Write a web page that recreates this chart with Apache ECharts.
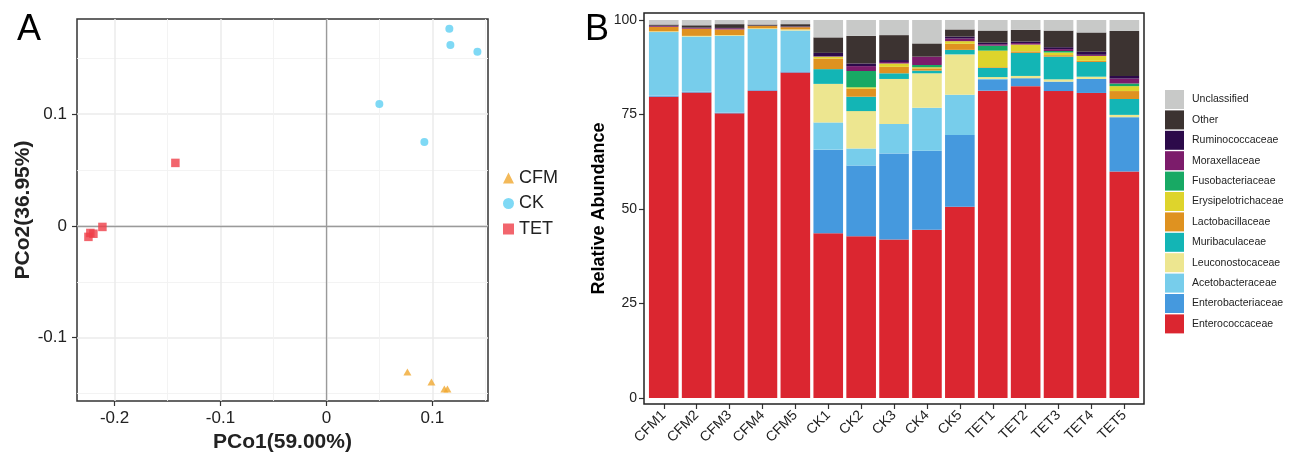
<!DOCTYPE html>
<html><head><meta charset="utf-8">
<script src="https://cdn.jsdelivr.net/npm/echarts@6/dist/echarts.min.js"></script>
<style>html,body{margin:0;padding:0;background:#fff}#c{width:1293px;height:452px}</style>
</head><body><div id="c"></div>
<script>
// ---- Panel A: PCoA ----
const groups = ['CFM', 'CK', 'TET'];
const cfmPoints = [[0.0765, -0.1307], [0.0992, -0.1397], [0.1114, -0.1459], [0.1143, -0.1459]];
const ckPoints = [[0.1161, 0.1764], [0.1171, 0.1620], [0.1426, 0.1558], [0.0500, 0.1092], [0.0925, 0.0752]];
const tetPoints = [[-0.1426, 0.0564], [-0.2247, -0.0098], [-0.2229, -0.0063], [-0.2200, -0.0070], [-0.2115, -0.0009]];
const pcoXTicks = [-0.2, -0.1, 0, 0.1];
const pcoXMinor = [-0.15, -0.05, 0.05, 0.15];
const pcoYTicks = [-0.1, 0, 0.1];
const pcoYMinor = [-0.15, -0.05, 0.05, 0.15];

// ---- Panel B: relative abundance ----
const samples = ['CFM1','CFM2','CFM3','CFM4','CFM5','CK1','CK2','CK3','CK4','CK5','TET1','TET2','TET3','TET4','TET5'];
const abundanceTicks = [0, 25, 50, 75, 100];
const Enterococcaceae     = [79.7,80.8,75.3,81.3,86.1, 43.6,42.8,41.9,44.5,50.6, 81.3,82.5,81.2,80.7,59.9];
const Enterobacteriaceae  = [0.3,0.2,0.2,0.2,0.3, 22.1,18.7,22.8,20.9,19.0, 3.0,2.1,2.5,3.7,14.4];
const Acetobacteraceae    = [16.8,14.6,20.3,16.1,10.8, 7.2,4.5,7.8,11.4,10.6, 0.1,0,0,0,0];
const Leuconostocaceae    = [0.2,0.2,0.2,0.2,0.3, 10.2,9.9,11.9,9.1,10.7, 0.5,0.6,0.6,0.6,0.6];
const Muribaculaceae      = [0,0,0,0,0, 3.9,3.8,1.5,0.7,1.2, 2.4,6.1,6.0,3.9,4.2];
const Lactobacillaceae    = [1.2,1.9,1.5,0.6,0.6, 2.8,2.1,1.7,0.6,1.6, 0.2,0.4,0.4,0.3,2.1];
const Erysipelotrichaceae = [0,0,0,0,0, 0.5,0.4,0.9,0.3,0.7, 4.4,1.8,0.7,1.3,1.3];
const Fusobacteriaceae    = [0,0,0,0,0, 0,4.3,0,0.6,0, 1.3,0,0.4,0,0.7];
const Moraxellaceae       = [0.2,0.2,0.3,0.1,0.1, 0.1,1.3,0.4,2.2,0.7, 0.4,0.4,0.5,0.3,1.3];
const Ruminococcaceae     = [0.1,0.1,0.1,0,0.1, 0.9,0.7,0.5,0,0.5, 0.4,0.4,0.5,0.8,0.7];
const Other               = [0.3,0.6,1.0,0.3,0.6, 4.1,7.3,6.6,3.5,1.9, 3.2,3.1,4.4,5.1,11.9];
const Unclassified        = [1.2,1.4,1.1,1.2,1.1, 4.6,4.2,4.0,6.2,2.5, 2.8,2.6,2.8,3.3,2.9];

const families = [
  ['Enterococcaceae', Enterococcaceae, '#DB2630'],
  ['Enterobacteriaceae', Enterobacteriaceae, '#4599DE'],
  ['Acetobacteraceae', Acetobacteraceae, '#77CDEB'],
  ['Leuconostocaceae', Leuconostocaceae, '#EDE690'],
  ['Muribaculaceae', Muribaculaceae, '#13B5B5'],
  ['Lactobacillaceae', Lactobacillaceae, '#DF9220'],
  ['Erysipelotrichaceae', Erysipelotrichaceae, '#DED42C'],
  ['Fusobacteriaceae', Fusobacteriaceae, '#18A964'],
  ['Moraxellaceae', Moraxellaceae, '#7C1C6B'],
  ['Ruminococcaceae', Ruminococcaceae, '#2C0A4A'],
  ['Other', Other, '#3C3331'],
  ['Unclassified', Unclassified, '#C8C9C8']
];

const FONT = '"Liberation Sans", Arial, Helvetica, sans-serif';
const chart = echarts.init(document.getElementById('c'), null, {renderer: 'canvas'});

const barSeries = families.map(f => ({
  name: f[0], type: 'bar', stack: 'abund', xAxisIndex: 2, yAxisIndex: 2,
  barWidth: '90%', data: f[1], itemStyle: {color: f[2]}, emphasis: {disabled: true}
}));

const option = {
  animation: false,
  backgroundColor: '#fff',
  textStyle: {fontFamily: FONT},
  title: [
    {text: 'A', left: 17, top: 12, padding: 0, textStyle: {fontSize: 36, fontWeight: 'normal', color: '#000', fontFamily: FONT}},
    {text: 'B', left: 585, top: 12, padding: 0, textStyle: {fontSize: 36, fontWeight: 'normal', color: '#000', fontFamily: FONT}}
  ],
  grid: [
    {left: 77, top: 19, width: 411, height: 382, show: true, borderColor: '#333', borderWidth: 1.5, backgroundColor: '#fff',
     containLabel: false, outerBoundsMode: 'none'},
    {left: 647.3, top: 13, width: 493.5, height: 391, containLabel: false, outerBoundsMode: 'none'}
  ],
  legend: [
    {
      data: [{name: 'CFM', icon: 'triangle'}, {name: 'CK', icon: 'circle'}, {name: 'TET', icon: 'rect'}],
      orient: 'vertical', left: 503, top: 169, padding: 0, itemWidth: 11, itemHeight: 11, itemGap: 7.5,
      selectedMode: false, textStyle: {fontSize: 18, color: '#222', fontFamily: FONT}
    },
    {
      data: families.map(f => f[0]).reverse(),
      orient: 'vertical', left: 1165, top: 90, padding: 0, itemWidth: 19, itemHeight: 19, itemGap: 1.4, icon: 'rect',
      selectedMode: false, textStyle: {fontSize: 10.5, color: '#222', fontFamily: FONT, padding: [0, 0, 0, 3]}
    }
  ],
  xAxis: [
    {
      gridIndex: 0, type: 'value', min: -0.2355, max: 0.1526,
      axisLine: {show: false, onZero: false},
      axisTick: {show: true, customValues: pcoXTicks, length: 5, lineStyle: {color: '#333', width: 1.2}},
      axisLabel: {customValues: pcoXTicks, fontSize: 17, color: '#222', margin: 9},
      splitLine: {show: true, lineStyle: {color: '#EBEBEB', width: 1.5}},
      name: 'PCo1(59.00%)', nameLocation: 'middle', nameGap: 29,
      nameTextStyle: {fontSize: 21, fontWeight: 'bold', color: '#222', fontFamily: FONT}
    },
    {
      gridIndex: 0, type: 'value', min: -0.2355, max: 0.1526,
      axisLine: {show: false, onZero: false}, axisLabel: {show: false},
      axisTick: {show: false, customValues: pcoXMinor},
      splitLine: {show: true, lineStyle: {color: '#F2F2F2', width: 0.9}}
    },
    {
      gridIndex: 1, type: 'category', data: samples,
      axisLine: {show: false, onZero: false},
      axisTick: {show: true, alignWithLabel: true, length: 5, lineStyle: {color: '#333', width: 1.2}},
      axisLabel: {rotate: 45, interval: 0, fontSize: 14, color: '#222', margin: 9}
    }
  ],
  yAxis: [
    {
      gridIndex: 0, type: 'value', min: -0.1567, max: 0.1852,
      axisLine: {show: false, onZero: false},
      axisTick: {show: true, customValues: pcoYTicks, length: 5, lineStyle: {color: '#333', width: 1.2}},
      axisLabel: {customValues: pcoYTicks, fontSize: 17, color: '#222', margin: 10},
      splitLine: {show: true, lineStyle: {color: '#EBEBEB', width: 1.5}},
      name: 'PCo2(36.95%)', nameLocation: 'middle', nameGap: 42, nameRotate: 90,
      nameTextStyle: {fontSize: 21, fontWeight: 'bold', color: '#222', fontFamily: FONT}
    },
    {
      gridIndex: 0, type: 'value', min: -0.1567, max: 0.1852,
      axisLine: {show: false, onZero: false}, axisLabel: {show: false},
      axisTick: {show: false, customValues: pcoYMinor},
      splitLine: {show: true, lineStyle: {color: '#F2F2F2', width: 0.9}}
    },
    {
      gridIndex: 1, type: 'value', min: -1.59, max: 101.85, offset: 3.3,
      axisLine: {show: false, onZero: false},
      axisTick: {show: true, customValues: abundanceTicks, length: 5, lineStyle: {color: '#333', width: 1.2}},
      axisLabel: {customValues: abundanceTicks, fontSize: 14, color: '#222', margin: 7},
      splitLine: {show: false},
      name: 'Relative Abundance', nameLocation: 'middle', nameGap: 36, nameRotate: 90,
      nameTextStyle: {fontSize: 18, fontWeight: 'bold', color: '#000', fontFamily: FONT}
    }
  ],
  graphic: [
    {type: 'rect', z: 100, silent: true, shape: {x: 644, y: 13, width: 500, height: 391},
     style: {fill: 'none', stroke: '#222', lineWidth: 1.5}}
  ],
  series: [
    {
      name: 'CFM', type: 'scatter', xAxisIndex: 0, yAxisIndex: 0, symbol: 'triangle', symbolSize: [8, 7],
      itemStyle: {color: '#F0A830'}, data: cfmPoints, z: 3
    },
    {
      name: 'CK', type: 'scatter', xAxisIndex: 0, yAxisIndex: 0, symbol: 'circle', symbolSize: 8,
      itemStyle: {color: '#5FD0F3'}, data: ckPoints, z: 3
    },
    {
      name: 'TET', type: 'scatter', xAxisIndex: 0, yAxisIndex: 0, symbol: 'rect', symbolSize: 8.5,
      itemStyle: {color: '#EF3E48'}, data: tetPoints, z: 3,
      markLine: {
        silent: true, symbol: ['none', 'none'], label: {show: false}, z: 1,
        lineStyle: {color: '#9A9A9A', width: 1.3, type: 'solid'},
        data: [{xAxis: 0}, {yAxis: 0}]
      }
    }
  ].concat(barSeries)
};
chart.setOption(option);
</script>
</body></html>
